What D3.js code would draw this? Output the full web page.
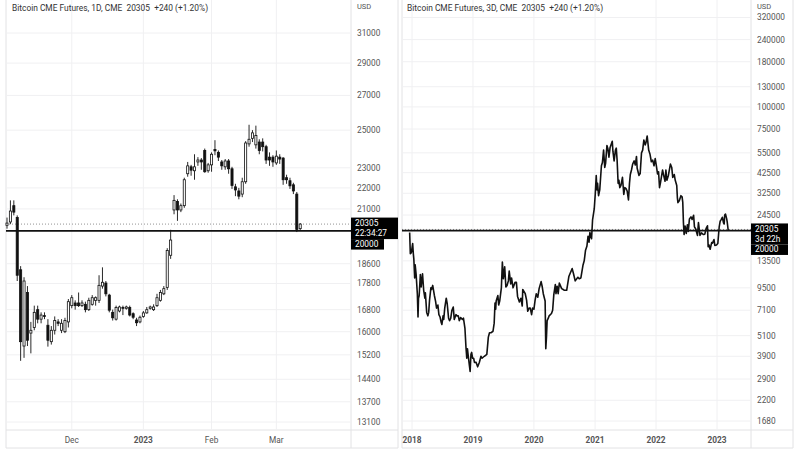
<!DOCTYPE html>
<html><head><meta charset="utf-8">
<script src="https://cdn.jsdelivr.net/npm/d3@7"></script>
<style>body{margin:0;background:#fff}svg{display:block;font-family:Roboto,"Helvetica Neue",Arial,sans-serif}</style>
</head><body><svg id="c" width="800" height="450"></svg>
<script>
// ---------- Left panel: daily candles (Bitcoin CME Futures, 1D) ----------
const candleDates = ["2022-11-03","2022-11-04","2022-11-07","2022-11-08","2022-11-09","2022-11-10","2022-11-11","2022-11-14","2022-11-15","2022-11-16","2022-11-17","2022-11-18","2022-11-21","2022-11-22","2022-11-23","2022-11-25","2022-11-28","2022-11-29","2022-11-30",
"2022-12-01","2022-12-02","2022-12-05","2022-12-06","2022-12-07","2022-12-08","2022-12-09","2022-12-12","2022-12-13","2022-12-14","2022-12-15","2022-12-16","2022-12-19","2022-12-20","2022-12-21","2022-12-22","2022-12-23","2022-12-27","2022-12-28","2022-12-29","2022-12-30",
"2023-01-03","2023-01-04","2023-01-05","2023-01-06","2023-01-09","2023-01-10","2023-01-11","2023-01-12","2023-01-13","2023-01-17","2023-01-18","2023-01-19","2023-01-20","2023-01-23","2023-01-24","2023-01-25","2023-01-26","2023-01-27","2023-01-30","2023-01-31",
"2023-02-01","2023-02-02","2023-02-03","2023-02-06","2023-02-07","2023-02-08","2023-02-09","2023-02-10","2023-02-13","2023-02-14","2023-02-15","2023-02-16","2023-02-17","2023-02-21","2023-02-22","2023-02-23","2023-02-24","2023-02-27","2023-02-28",
"2023-03-01","2023-03-02","2023-03-03","2023-03-06","2023-03-07","2023-03-08","2023-03-09","2023-03-10"];
const candleOpen  = [20250,20400,21150,20600,18350,15500,17450,15950,16150,16800,16450,16580,16230,15650,16050,16350,16050,16000,16350,
16950,17050,17050,16950,17000,16800,17000,17150,17150,17700,17820,17350,16700,16450,16750,16880,16850,16880,16650,16420,16350,
16550,16680,16850,16800,16950,17150,17400,17650,18950,20950,21350,20950,21150,22700,23050,22850,23300,23400,23900,22850,
23150,23950,23800,23300,23050,23350,22950,22050,21850,21700,22300,24250,24550,24200,24350,24350,24100,23550,23550,
23250,23550,23500,22500,22350,22150,21700,20100];
const candleHigh  = [20600,21400,21400,20700,18500,18050,17700,16350,16950,16950,16700,16700,16450,16200,16550,16450,16450,16500,17200,
17350,17150,17450,17150,17100,17250,17350,17300,18130,18450,17900,17400,16800,16950,16950,16950,16950,16950,16700,16500,16580,
16750,16900,16950,17000,17400,17550,17700,19250,20050,21650,21450,21250,22500,23300,23150,23700,23550,23500,24000,23250,
23800,24450,23900,23400,23450,23450,23050,22200,22000,22500,24400,25300,25000,25250,24500,24550,24200,23800,23650,
23900,23700,23550,22650,22500,22250,21800,20350];
const candleLow   = [20100,20300,20700,17900,15000,15100,15500,15250,16050,16300,16300,16450,15480,15550,15900,16200,15950,15950,16150,
16850,16800,16900,16900,16700,16750,16950,16950,17050,17600,17300,16700,16400,16400,16700,16600,16800,16550,16450,16200,16300,
16500,16650,16800,16750,16900,17100,17350,17550,18800,20750,20450,20850,21050,22550,22600,22400,23100,22900,22750,22750,
22800,23650,23350,22900,22900,22700,21950,21600,21450,21550,22200,24100,24350,24000,23700,23850,23200,23100,23050,
23150,23200,22150,22200,21950,21700,19950,20000];
const candleClose = [20350,20900,20850,18130,15650,17900,15700,16050,16700,16450,16600,16560,15700,16050,16400,16300,16300,16400,17100,
17250,16950,16950,17050,16800,17150,17250,17250,17730,17850,17400,16780,16500,16880,16900,16850,16900,16600,16520,16320,16520,
16680,16800,16900,16900,17250,17450,17600,19150,19600,21400,20950,21150,22400,23100,22880,23050,23400,23300,22800,23150,
23700,23880,23550,23100,23350,22950,22120,21900,21600,22300,24300,24500,24850,24700,23900,24100,23400,23400,23300,
23600,23450,22400,22400,22100,21850,20065,20305];
const leftTicks = [31000,29000,27000,25000,23000,22000,21000,18600,17800,16800,16000,15200,14400,13700,13100];
const leftXTickDates = ["2022-12-01","2023-01-03","2023-02-01","2023-03-01"];
const leftXTickLabels = ["Dec","2023","Feb","Mar"];

// ---------- Right panel: 3D (Bitcoin CME Futures, 3D) ----------
const lineDates = ["2017-12-18","2017-12-22","2017-12-28","2018-01-05","2018-01-09","2018-01-12","2018-01-17","2018-01-20","2018-01-26","2018-02-02","2018-02-06","2018-02-09","2018-02-13","2018-02-20","2018-02-25","2018-03-05","2018-03-12","2018-03-19","2018-03-22","2018-03-30","2018-04-06","2018-04-11","2018-04-16","2018-04-24","2018-04-28","2018-05-05","2018-05-10","2018-05-15","2018-05-22","2018-05-28","2018-06-05","2018-06-11","2018-06-18","2018-06-24","2018-06-29","2018-07-06","2018-07-10","2018-07-16","2018-07-25","2018-07-31","2018-08-08","2018-08-14","2018-08-21","2018-08-28","2018-09-05","2018-09-11","2018-09-21","2018-09-28","2018-10-05","2018-10-11","2018-10-19","2018-10-30","2018-11-05","2018-11-14","2018-11-20","2018-11-25","2018-11-29","2018-12-04","2018-12-10","2018-12-15","2018-12-20","2018-12-24","2018-12-30",
"2019-01-05","2019-01-10","2019-01-14","2019-01-20","2019-01-29","2019-02-08","2019-02-18","2019-02-24","2019-03-10","2019-03-25","2019-04-03","2019-04-10","2019-04-20","2019-05-01","2019-05-08","2019-05-13","2019-05-17","2019-05-20","2019-05-30","2019-06-04","2019-06-10","2019-06-20","2019-06-26","2019-07-02","2019-07-10","2019-07-17","2019-07-24","2019-08-01","2019-08-06","2019-08-15","2019-08-20","2019-08-29","2019-09-10","2019-09-18","2019-09-25","2019-10-06","2019-10-15","2019-10-23","2019-10-26","2019-11-10","2019-11-18","2019-11-25","2019-12-03","2019-12-10","2019-12-18","2019-12-24",
"2020-01-01","2020-01-08","2020-01-15","2020-01-24","2020-02-01","2020-02-13","2020-02-20","2020-02-26","2020-03-08","2020-03-12","2020-03-16","2020-03-20","2020-03-27","2020-04-01","2020-04-15","2020-04-22","2020-04-29","2020-05-08","2020-05-12","2020-05-19","2020-05-25","2020-06-01","2020-06-15","2020-06-24","2020-07-01","2020-07-15","2020-07-28","2020-08-07","2020-08-17","2020-08-25","2020-09-04","2020-09-20","2020-09-28","2020-10-08","2020-10-21","2020-10-28","2020-11-05","2020-11-13","2020-11-20","2020-11-26","2020-12-01","2020-12-11","2020-12-17","2020-12-27",
"2021-01-02","2021-01-08","2021-01-12","2021-01-16","2021-01-22","2021-01-29","2021-02-08","2021-02-14","2021-02-21","2021-02-28","2021-03-05","2021-03-13","2021-03-19","2021-03-25","2021-04-01","2021-04-14","2021-04-18","2021-04-25","2021-05-03","2021-05-08","2021-05-13","2021-05-19","2021-05-24","2021-05-29","2021-06-05","2021-06-14","2021-06-22","2021-06-28","2021-07-06","2021-07-12","2021-07-20","2021-07-26","2021-07-31","2021-08-07","2021-08-14","2021-08-23","2021-08-30","2021-09-06","2021-09-10","2021-09-21","2021-09-28","2021-10-06","2021-10-13","2021-10-20","2021-10-28","2021-11-02","2021-11-09","2021-11-18","2021-11-26","2021-12-04","2021-12-12","2021-12-20","2021-12-27",
"2022-01-03","2022-01-10","2022-01-16","2022-01-22","2022-01-28","2022-02-09","2022-02-17","2022-02-24","2022-03-01","2022-03-07","2022-03-16","2022-03-28","2022-04-05","2022-04-11","2022-04-20","2022-04-26","2022-05-05","2022-05-09","2022-05-12","2022-05-20","2022-05-30","2022-06-06","2022-06-10","2022-06-14","2022-06-18","2022-06-24","2022-07-01","2022-07-08","2022-07-13","2022-07-20","2022-07-29","2022-08-05","2022-08-14","2022-08-19","2022-08-26","2022-09-06","2022-09-12","2022-09-21","2022-09-30","2022-10-12","2022-10-20","2022-10-28","2022-11-05","2022-11-09","2022-11-14","2022-11-21","2022-11-30","2022-12-05","2022-12-14","2022-12-19","2022-12-29",
"2023-01-06","2023-01-14","2023-01-20","2023-01-25","2023-02-02","2023-02-09","2023-02-13","2023-02-16","2023-02-21","2023-02-28","2023-03-03","2023-03-09","2023-03-10"];
const lineClose = [19500,14800,15000,16900,14800,13800,10800,12800,11200,8800,6500,8300,8600,11300,9600,11400,9200,8300,8900,6900,6600,6900,8100,9500,9300,9800,9200,8600,8000,7300,7600,6700,6500,6100,5900,6600,6300,7300,8300,7700,6400,6200,6400,7100,7400,6300,6700,6600,6600,6200,6450,6300,6400,5600,4400,3800,4300,3900,3500,3200,4000,4100,3800,
3800,3600,3600,3600,3400,3600,3900,3800,3900,4000,5000,5300,5300,5400,6000,7800,7200,8000,8600,7600,8000,9500,13300,10700,12500,9600,9800,10400,11800,10000,10800,9500,10200,10200,8500,7900,8300,7500,9300,8800,8100,7000,7300,7300,6700,7300,
7200,8100,8800,8400,9400,10300,9600,8800,8000,4300,5000,6200,6400,6600,6800,7100,8700,9900,8800,9700,8800,10100,9400,9300,9200,9200,11000,11600,12200,11400,10400,10900,10700,10800,12800,13500,15500,16300,18600,17200,19500,18000,23000,26500,
32000,41000,34000,37000,31500,34000,46500,48500,57000,45500,48000,60500,58000,52000,59000,64000,56000,49500,57000,58500,50000,37000,38500,35000,36000,40000,32000,35000,34500,33500,29800,37000,41500,44000,47500,49500,47000,52500,45000,41000,42000,55000,57000,65000,61000,63000,68500,57000,54000,49000,50000,46500,51000,
46500,41800,43000,35000,37500,44000,40500,38000,44000,38500,41000,47500,45500,40000,41500,38500,36000,30500,28800,29500,31500,31000,29000,22200,19000,21200,19300,21600,19800,23300,23900,23100,24400,21000,20500,18800,22200,18800,19400,19000,19100,20600,21300,16200,16600,15700,17100,17000,17800,16500,16600,
16900,20900,22600,23000,23800,22100,21800,24500,24800,23300,22400,20100,20305];
const rightTicks = [320000,240000,180000,130000,100000,75000,55000,42500,32500,24500,13500,9500,7100,5100,3900,2900,2200,1680];
const rightXTickLabels = ["2018","2019","2020","2021","2022","2023"];

const lastPrice = 20305;
const levelPrice = 20000;

// ---------- drawing ----------
const svg = d3.select("#c");
const parse = d3.timeParse("%Y-%m-%d");
const gridC = "#f0f0f2", borderC = "#e2e2e4", labelC = "#555";

function frame(x0, x1, axR) {
  const g = svg.append("g");
  g.append("line").attr("x1", x0).attr("x2", x0).attr("y1", 0).attr("y2", 448).attr("stroke", borderC);
  g.append("line").attr("x1", x1).attr("x2", x1).attr("y1", 0).attr("y2", 448).attr("stroke", borderC);
  g.append("line").attr("x1", axR).attr("x2", axR).attr("y1", 0).attr("y2", 448).attr("stroke", borderC);
  g.append("line").attr("x1", x0).attr("x2", axR).attr("y1", 430).attr("y2", 430).attr("stroke", borderC);
  g.append("line").attr("x1", x0).attr("x2", axR).attr("y1", 448).attr("y2", 448).attr("stroke", borderC);
  return g;
}

function yAxisLabels(y, ticks, x0, x1) {
  svg.append("g").selectAll("line").data(ticks).join("line")
    .attr("x1", x0).attr("x2", x1).attr("y1", d => y(d)).attr("y2", d => y(d))
    .attr("stroke", gridC);
  svg.append("g").selectAll("text").data(ticks).join("text")
    .attr("x", x1 + 6).attr("y", d => y(d)).attr("dy", "0.35em")
    .attr("font-size", 8.3).attr("fill", labelC).text(d => d);
  svg.append("text").attr("x", x1 + 6).attr("y", 6).attr("dy", "0.35em")
    .attr("font-size", 7.5).attr("fill", labelC).text("USD");
}

function title(x, txt) {
  svg.append("text").attr("x", x).attr("y", 8).attr("dy", "0.35em")
    .attr("font-size", 8.4).attr("fill", "#333").style("white-space", "pre").text(txt);
}

// Left panel
const L0 = 6, L1 = 351, LA = 398;
frame(L0, L1, LA);
const xL = d3.scalePoint().domain(candleDates).range([7, 300.2]);
const yL = d3.scaleLog().domain([13100, 31000]).range([422, 33]);
svg.append("g").selectAll("line").data(leftXTickDates).join("line")
  .attr("x1", d => xL(d)).attr("x2", d => xL(d)).attr("y1", 0).attr("y2", 430).attr("stroke", gridC);
yAxisLabels(yL, leftTicks, L0, L1);
svg.append("g").selectAll("text").data(leftXTickDates).join("text")
  .attr("x", d => xL(d)).attr("y", 440).attr("dy", "0.35em").attr("text-anchor", "middle")
  .attr("font-size", 8.3).attr("fill", labelC)
  .attr("font-weight", (d, i) => /^\d+$/.test(leftXTickLabels[i]) ? "bold" : "normal")
  .text((d, i) => leftXTickLabels[i]);
title(12, "Bitcoin CME Futures, 1D, CME  20305  +240 (+1.20%)");

svg.append("line").attr("x1", L0).attr("x2", L1).attr("y1", yL(lastPrice)).attr("y2", yL(lastPrice))
  .attr("stroke", "#777").attr("stroke-dasharray", "1,2").attr("stroke-width", 0.8);
svg.append("line").attr("x1", L0).attr("x2", L1).attr("y1", yL(levelPrice)).attr("y2", yL(levelPrice))
  .attr("stroke", "#111").attr("stroke-width", 1.7);

const cg = svg.append("g");
const idx = d3.range(candleDates.length);
cg.selectAll("line").data(idx).join("line")
  .attr("x1", i => xL(candleDates[i])).attr("x2", i => xL(candleDates[i]))
  .attr("y1", i => yL(candleHigh[i])).attr("y2", i => yL(candleLow[i]))
  .attr("stroke", "#111").attr("stroke-width", 0.9);
const bw = 2.1;
cg.selectAll("rect").data(idx).join("rect")
  .attr("x", i => xL(candleDates[i]) - bw / 2)
  .attr("y", i => yL(Math.max(candleOpen[i], candleClose[i])))
  .attr("width", bw)
  .attr("height", i => Math.max(0.8, Math.abs(yL(candleOpen[i]) - yL(candleClose[i]))))
  .attr("fill", i => candleClose[i] >= candleOpen[i] ? "#fff" : "#111")
  .attr("stroke", "#111").attr("stroke-width", 0.8);

svg.append("rect").attr("x", 351).attr("y", yL(lastPrice) - 6.5).attr("width", 47).attr("height", 21.5).attr("fill", "#000");
svg.append("text").attr("x", 355).attr("y", yL(lastPrice) - 1).attr("dy", "0.35em").attr("font-size", 8.3).attr("fill", "#fff").text("20305");
svg.append("text").attr("x", 355).attr("y", yL(lastPrice) + 9).attr("dy", "0.35em").attr("font-size", 8.3).attr("fill", "#fff").text("22:34:27");
svg.append("rect").attr("x", 351).attr("y", yL(lastPrice) + 15).attr("width", 33).attr("height", 10.5).attr("fill", "#000");
svg.append("text").attr("x", 355).attr("y", yL(lastPrice) + 20).attr("dy", "0.35em").attr("font-size", 8.3).attr("fill", "#fff").text("20000");

// Right panel
const R0 = 402, R1 = 751, RA = 793;
frame(R0, R1, RA);
const xR = d3.scaleTime().domain([parse("2018-01-01"), parse("2023-01-01")]).range([412, 717]);
const yR = d3.scaleLog().domain([1680, 320000]).range([421, 17.5]);
const yearTicks = rightXTickLabels.map(s => parse(s + "-01-01"));
svg.append("g").selectAll("line").data(yearTicks).join("line")
  .attr("x1", d => xR(d)).attr("x2", d => xR(d)).attr("y1", 0).attr("y2", 430).attr("stroke", gridC);
yAxisLabels(yR, rightTicks, R0, R1);
svg.append("g").selectAll("text").data(yearTicks).join("text")
  .attr("x", d => xR(d)).attr("y", 440).attr("dy", "0.35em").attr("text-anchor", "middle")
  .attr("font-size", 8.3).attr("fill", labelC).attr("font-weight", "bold")
  .text((d, i) => rightXTickLabels[i]);
title(407, "Bitcoin CME Futures, 3D, CME  20305  +240 (+1.20%)");

svg.append("line").attr("x1", R0).attr("x2", R1).attr("y1", yR(lastPrice)).attr("y2", yR(lastPrice))
  .attr("stroke", "#777").attr("stroke-dasharray", "1,2").attr("stroke-width", 0.8);
svg.append("line").attr("x1", R0).attr("x2", R1).attr("y1", yR(levelPrice)).attr("y2", yR(levelPrice))
  .attr("stroke", "#111").attr("stroke-width", 1.7);

const line = d3.line().x((d, i) => xR(parse(lineDates[i]))).y(d => yR(d));
svg.append("path").datum(lineClose).attr("d", line)
  .attr("fill", "none").attr("stroke", "#111").attr("stroke-width", 1.6).attr("stroke-linejoin", "round");

svg.append("rect").attr("x", 751).attr("y", yR(lastPrice) - 6).attr("width", 37).attr("height", 21).attr("fill", "#000");
svg.append("text").attr("x", 755).attr("y", yR(lastPrice)).attr("dy", "0.35em").attr("font-size", 8.3).attr("fill", "#fff").text("20305");
svg.append("text").attr("x", 755).attr("y", yR(lastPrice) + 10).attr("dy", "0.35em").attr("font-size", 8.3).attr("fill", "#fff").text("3d 22h");
svg.append("rect").attr("x", 751).attr("y", yR(lastPrice) + 15).attr("width", 37).attr("height", 10.5).attr("fill", "#000");
svg.append("text").attr("x", 755).attr("y", yR(lastPrice) + 20).attr("dy", "0.35em").attr("font-size", 8.3).attr("fill", "#fff").text("20000");
</script></body></html>
